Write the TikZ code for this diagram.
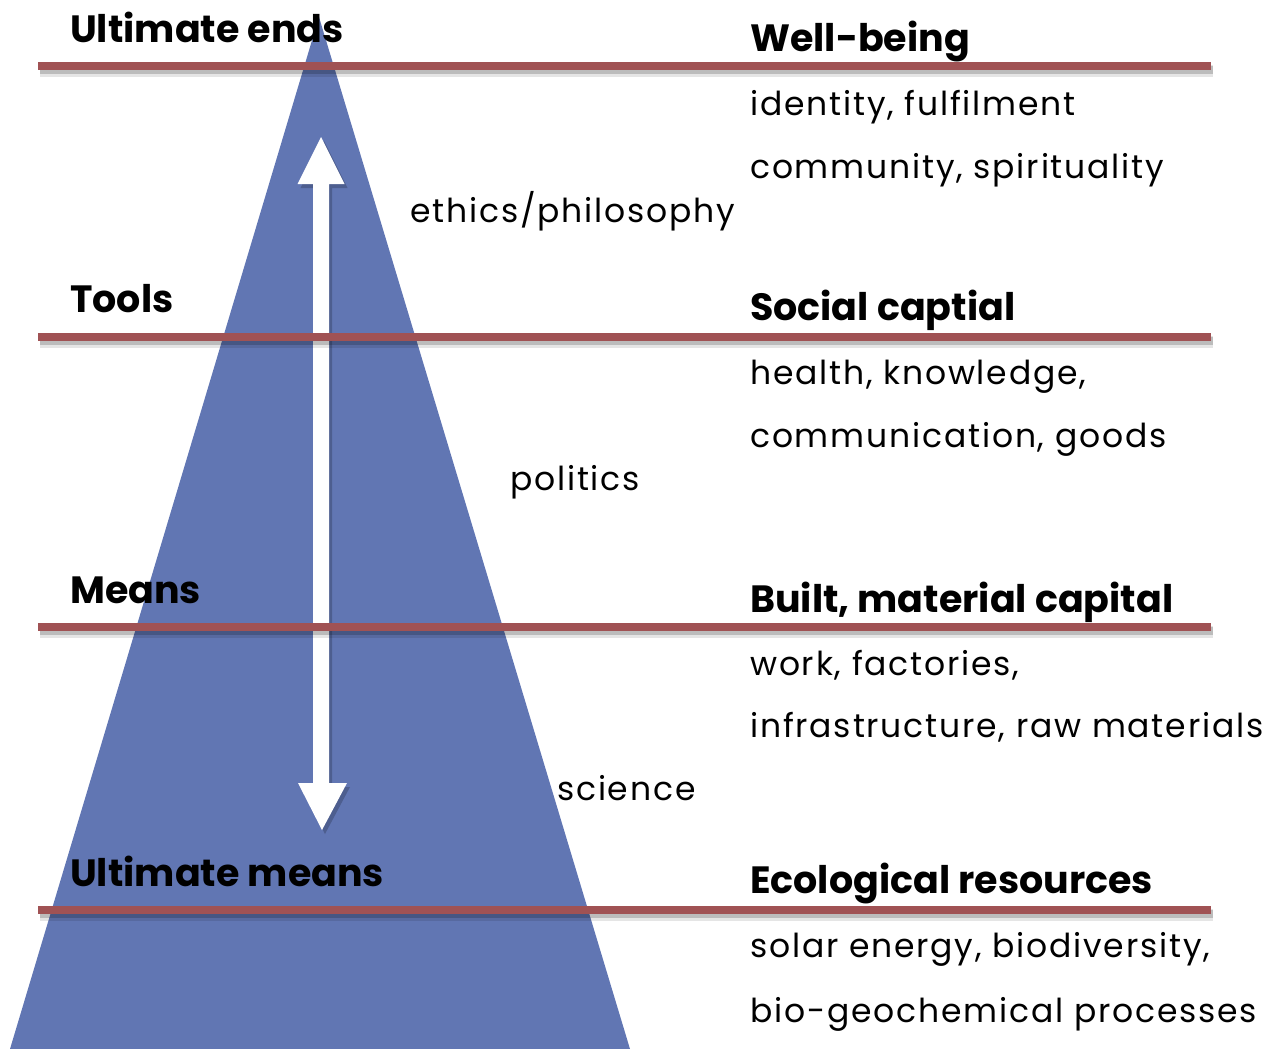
\documentclass[tikz,border=0pt]{standalone}
\usepackage{fontspec}
\setmainfont{Poppins}
\newfontfamily\regfont[LetterSpace=5.5]{Poppins}
\definecolor{tri}{RGB}{97,118,179}
\definecolor{bar}{RGB}{160,82,84}
\tikzset{
  reg/.style={anchor=base west, inner sep=0pt, font=\regfont\fontsize{33}{38}\selectfont},
  hd/.style={anchor=base west, inner sep=0pt, font=\fontsize{38}{44}\selectfont\bfseries},
  barline/.style={draw=bar, line width=8pt},
  barshadow/.style={draw=black, line width=8pt, opacity=0.18},
}
\begin{document}
\begin{tikzpicture}[x=1pt,y=-1pt]
\useasboundingbox (0,0) rectangle (1286,1049);
% triangle
\fill[tri] (10,1049) -- (319,17) -- (630,1049) -- cycle;
% arrow shadow
\fill[black, opacity=0.2] (324,141) -- (347.5,188) -- (332,188) -- (332,787) -- (350,787) -- (325,834) -- (301,787) -- (316,787) -- (316,188) -- (300.5,188) -- cycle;
% double arrow
\fill[white] (321,137) -- (344.5,184) -- (329,184) -- (329,783) -- (347,783) -- (322,830) -- (298,783) -- (313,783) -- (313,184) -- (297.5,184) -- cycle;
% bars
\foreach \y in {66,337,627,910} {
  \draw[barshadow] (40,\y+4) -- (1213,\y+4);
  \draw[barshadow, opacity=0.1, line width=12pt] (40,\y+5) -- (1213,\y+5);
  \draw[barline] (38,\y) -- (1211,\y);
}
% left labels
\node[hd] (ue) at (70,43) {Ultimate ends};
\node[hd] (tl) at (70,312) {Tools};
\node[hd] (mn) at (70,603) {Means};
\node[hd] (um) at (70,886) {Ultimate means};
% middle labels
\node[reg] (eth) at (410,222) {ethics/philosophy};
\node[reg] (pol) at (510,490) {politics};
\node[reg] (sci) at (557,800) {science};
% right column
\node[hd] (wb) at (750,52) {Well-being};
\node[reg] (wb1) at (750,115) {identity, fulfilment};
\node[reg] (wb2) at (750,178) {community, spirituality};
\node[hd] (sc) at (750,320) {Social captial};
\node[reg] (sc1) at (750,384) {health, knowledge,};
\node[reg] (sc2) at (750,447) {communication, goods};
\node[hd] (bm) at (750,612) {Built, material capital};
\node[reg] (bm1) at (750,675) {work, factories,};
\node[reg] (bm2) at (750,737) {infrastructure, raw materials};
\node[hd] (er) at (750,893) {Ecological resources};
\node[reg] (er1) at (750,957) {solar energy, biodiversity,};
\node[reg] (er2) at (750,1022) {bio-geochemical processes};
\end{tikzpicture}
\end{document}
